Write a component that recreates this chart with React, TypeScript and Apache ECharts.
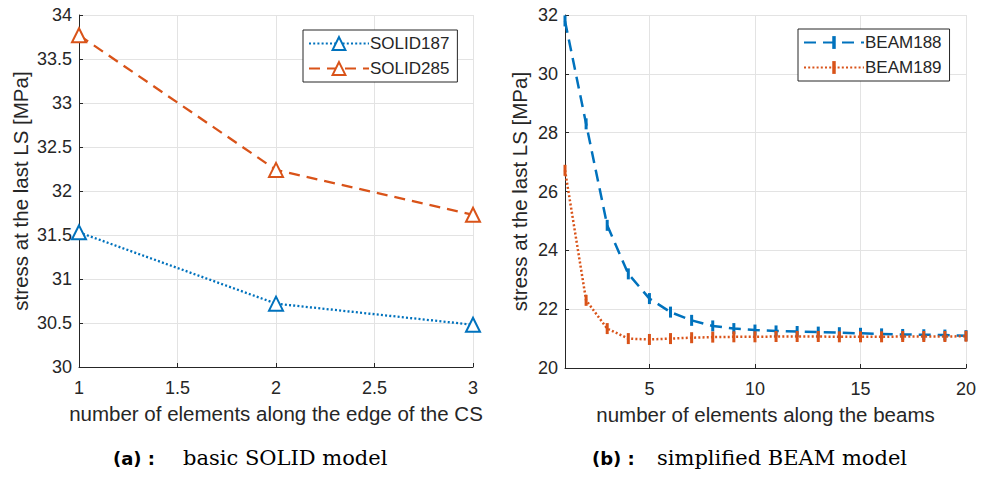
import React, { useEffect, useRef } from "react";
import * as echarts from "echarts";

const solidX = [1, 2, 3];
const solid187 = [31.53, 30.72, 30.48];
const solid285 = [33.77, 32.24, 31.73];

const beamX = [1, 2, 3, 4, 5, 6, 7, 8, 9, 10, 11, 12, 13, 14, 15, 16, 17, 18, 19, 20];
const beam188 = [31.8, 28.3, 24.85, 23.2, 22.36, 21.9, 21.62, 21.43, 21.34, 21.29, 21.26, 21.24, 21.22, 21.2, 21.18, 21.16, 21.14, 21.13, 21.12, 21.1];
const beam189 = [26.72, 22.3, 21.34, 21.0, 20.97, 21.0, 21.03, 21.05, 21.06, 21.06, 21.07, 21.07, 21.07, 21.06, 21.06, 21.06, 21.07, 21.07, 21.07, 21.08];

const leftXTicks = [1, 1.5, 2, 2.5, 3];
const rightXTicks = [5, 10, 15, 20];

const BLUE = "#0072BD";
const ORANGE = "#D95319";
const TXT = "#262626";
const GRIDC = "#e3e3e3";
const FONT = "Liberation Sans";
// vertical bar marker inside a square bounding box (so the legend draws it as a bar)
const BAR = "path://M0,0 M11,11 M4,0 L7,0 L7,11 L4,11 Z";

const pair = (xs: number[], ys: number[]) => xs.map((x, i) => [x, ys[i]]);

export default function App() {
  const ref = useRef<HTMLDivElement>(null);
  useEffect(() => {
    if (!ref.current) return;
    const chart = echarts.init(ref.current, null, { renderer: "svg" });
    const axisCommon = {
      axisLine: { show: true, onZero: false, lineStyle: { color: TXT, width: 1 } },
      axisTick: { show: true, inside: true, length: 4, lineStyle: { color: TXT } },
      axisLabel: { color: TXT, fontSize: 18, fontFamily: FONT },
      splitLine: { show: true, lineStyle: { color: GRIDC, width: 1 } },
      nameTextStyle: { color: TXT, fontSize: 20.5, fontFamily: FONT },
      nameLocation: "middle" as const,
    };
    const legendCommon = {
      orient: "vertical" as const,
      backgroundColor: "#fff",
      borderColor: TXT,
      borderWidth: 1,
      borderRadius: 0,
      itemWidth: 60,
      itemHeight: 16,
      itemGap: 8,
      padding: [5, 8, 5, 5],
      textStyle: { color: TXT, fontSize: 17, fontFamily: FONT, padding: [0, 0, 0, -4] },
    };
    const capA = { fontFamily: "DejaVu Sans", fontWeight: "bold" as const, fontSize: 18, fill: "#000" };
    const capB = { fontFamily: "DejaVu Serif", fontSize: 21, fill: "#000" };
    chart.setOption({
      animation: false,
      backgroundColor: "#fff",
      grid: [
        { left: 79, right: 982 - 473, top: 15, bottom: 477 - 367, containLabel: false },
        { left: 565, right: 982 - 966, top: 15, bottom: 477 - 368, containLabel: false },
      ],
      xAxis: [
        {
          ...axisCommon,
          gridIndex: 0,
          type: "value",
          min: 1,
          max: 3,
          interval: 0.5,
          name: "number of elements along the edge of the CS",
          nameGap: 36,
          axisLabel: { ...axisCommon.axisLabel, margin: 12, customValues: leftXTicks },
          axisTick: { ...axisCommon.axisTick, customValues: leftXTicks },
        },
        {
          ...axisCommon,
          gridIndex: 1,
          type: "value",
          min: 1,
          max: 20,
          name: "number of elements along the beams",
          nameGap: 36,
          axisLabel: { ...axisCommon.axisLabel, margin: 12, customValues: rightXTicks },
          axisTick: { ...axisCommon.axisTick, customValues: rightXTicks },
        },
      ],
      yAxis: [
        {
          ...axisCommon,
          gridIndex: 0,
          type: "value",
          min: 30,
          max: 34,
          interval: 0.5,
          name: "stress at the last LS [MPa]",
          nameGap: 48,
          axisLabel: { ...axisCommon.axisLabel, margin: 7 },
        },
        {
          ...axisCommon,
          gridIndex: 1,
          type: "value",
          min: 20,
          max: 32,
          interval: 2,
          name: "stress at the last LS [MPa]",
          nameGap: 35,
          axisLabel: { ...axisCommon.axisLabel, margin: 7 },
        },
      ],
      legend: [
        { ...legendCommon, left: 303, top: 30, data: ["SOLID187", "SOLID285"] },
        { ...legendCommon, left: 798, top: 29, data: ["BEAM188", "BEAM189"] },
      ],
      series: [
        {
          name: "SOLID187",
          type: "line",
          xAxisIndex: 0,
          yAxisIndex: 0,
          data: pair(solidX, solid187),
          color: BLUE,
          lineStyle: { color: BLUE, width: 2.3, type: [2, 2.2] },
          symbol: "emptyTriangle",
          symbolSize: 14,
          itemStyle: { color: BLUE, borderWidth: 2.4, borderColor: BLUE },
        },
        {
          name: "SOLID285",
          type: "line",
          xAxisIndex: 0,
          yAxisIndex: 0,
          data: pair(solidX, solid285),
          color: ORANGE,
          lineStyle: { color: ORANGE, width: 2.3, type: [11, 7] },
          symbol: "emptyTriangle",
          symbolSize: 14,
          itemStyle: { color: ORANGE, borderWidth: 2.4, borderColor: ORANGE },
        },
        {
          name: "BEAM188",
          type: "line",
          xAxisIndex: 1,
          yAxisIndex: 1,
          data: pair(beamX, beam188),
          color: BLUE,
          lineStyle: { color: BLUE, width: 2.5, type: [12, 7] },
          symbol: BAR,
          symbolSize: 11,
          itemStyle: { color: BLUE },
        },
        {
          name: "BEAM189",
          type: "line",
          xAxisIndex: 1,
          yAxisIndex: 1,
          data: pair(beamX, beam189),
          color: ORANGE,
          lineStyle: { color: ORANGE, width: 2.5, type: [2, 2.2] },
          symbol: BAR,
          symbolSize: 11,
          itemStyle: { color: ORANGE },
        },
      ],
      graphic: [
        { type: "text", x: 113, y: 458, style: { text: "(a) :", ...capA, verticalAlign: "middle" } },
        { type: "text", x: 183, y: 458, style: { text: "basic SOLID model", ...capB, verticalAlign: "middle" } },
        { type: "text", x: 592, y: 458, style: { text: "(b) :", ...capA, verticalAlign: "middle" } },
        { type: "text", x: 657, y: 458, style: { text: "simplified BEAM model", ...capB, verticalAlign: "middle" } },
      ],
    });
    return () => chart.dispose();
  }, []);
  return (
    <div
      ref={ref}
      style={{ position: "fixed", left: 0, top: 0, width: 982, height: 477, background: "#fff" }}
    />
  );
}
